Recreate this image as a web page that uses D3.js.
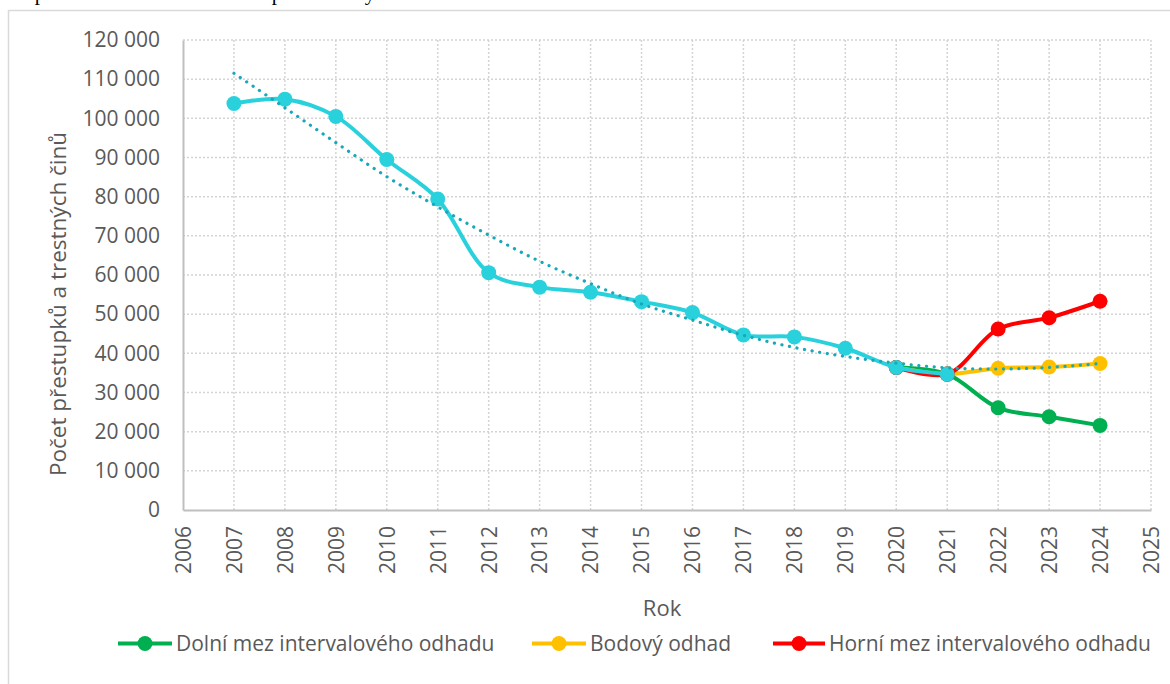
<!DOCTYPE html>
<html>
<head>
<meta charset="utf-8">
<script src="https://cdn.jsdelivr.net/npm/d3@7"></script>
<style>
  body { margin: 0; background: #fff; }
  svg { display: block; font-family: 'Open Sans', sans-serif; }
</style>
</head>
<body>
<svg class="chart"></svg>
<script>
const graphWidth = 1170;
const graphHeight = 684;

// data
const years = [2007, 2008, 2009, 2010, 2011, 2012, 2013, 2014, 2015, 2016, 2017, 2018, 2019, 2020, 2021, 2022, 2023, 2024];
const historyYears = [2007, 2008, 2009, 2010, 2011, 2012, 2013, 2014, 2015, 2016, 2017, 2018, 2019, 2020, 2021];
const historyValues = [103800, 104900, 100500, 89500, 79400, 60600, 56900, 55600, 53200, 50400, 44700, 44200, 41300, 36400, 34700];
// forecast series start from the last two observed years
const forecastYears = [2020, 2021, 2022, 2023, 2024];
const lowerValues = [36400, 34700, 26100, 23800, 21600];
const pointValues = [36400, 34700, 36200, 36500, 37400];
const upperValues = [36400, 34700, 46200, 49100, 53300];
const trendValues = [111500, 102700, 93800, 85100, 77400, 70200, 63500, 57800, 52600, 48500, 44600, 41500, 39200, 37500, 36300, 36000, 36400, 37400];
const yTicks = [0, 10000, 20000, 30000, 40000, 50000, 60000, 70000, 80000, 90000, 100000, 110000, 120000];
const xTicks = [2006, 2007, 2008, 2009, 2010, 2011, 2012, 2013, 2014, 2015, 2016, 2017, 2018, 2019, 2020, 2021, 2022, 2023, 2024, 2025];

const legendItems = [
  { name: 'Dolní mez intervalového odhadu', color: '#00B050', x: 118, w: 54 },
  { name: 'Bodový odhad', color: '#FFC000', x: 532, w: 54 },
  { name: 'Horní mez intervalového odhadu', color: '#FF0000', x: 773, w: 52 }
];

const cyan = '#29D1DC';
const trendColor = '#17A9BA';
const textColor = '#595959';

const svg = d3.select('.chart')
  .attr('width', graphWidth)
  .attr('height', graphHeight);

svg.append('rect').attr('width', graphWidth).attr('height', graphHeight).attr('fill', '#fff');

// clipped text of the page above the chart
[['p', 40], ['p', 277], ['y', 370]].forEach(d => {
  svg.append('text')
    .attr('x', d[1]).attr('y', 0)
    .style('font-family', "'Liberation Serif', serif")
    .style('font-size', '21px')
    .attr('text-anchor', 'middle')
    .attr('fill', '#000')
    .text(d[0]);
});

// chart frame
svg.append('rect')
  .attr('x', 8.5).attr('y', 10.5)
  .attr('width', 1180).attr('height', 700)
  .attr('fill', 'none')
  .attr('stroke', '#d9d9d9')
  .attr('stroke-width', 1.5);

const x = d3.scaleLinear().domain([2006, 2025]).range([183, 1151]);
const y = d3.scaleLinear().domain([0, 120000]).range([510, 40]);

// grid
const grid = svg.append('g').attr('class', 'grid');
grid.selectAll('line.h')
  .data(yTicks.filter(d => d > 0))
  .enter()
  .append('line')
  .attr('x1', x(2006)).attr('x2', x(2025))
  .attr('y1', d => y(d)).attr('y2', d => y(d))
  .attr('stroke', '#d4d4d4').attr('stroke-width', 1.5)
  .attr('stroke-dasharray', '2 2');
grid.selectAll('line.v')
  .data(xTicks.filter(d => d > 2006))
  .enter()
  .append('line')
  .attr('x1', d => x(d)).attr('x2', d => x(d))
  .attr('y1', y(0)).attr('y2', y(120000))
  .attr('stroke', '#d4d4d4').attr('stroke-width', 1.5)
  .attr('stroke-dasharray', '2 2');

// axes
const yAxis = svg.append('g')
  .attr('transform', 'translate(' + x(2006) + ',0)')
  .call(d3.axisLeft(y).tickValues(yTicks).tickSize(0).tickPadding(23)
    .tickFormat(d => d3.format(',')(d).replace(/,/g, ' ')));
yAxis.select('.domain').attr('stroke', '#bfbfbf').attr('stroke-width', 2);
yAxis.selectAll('text')
  .style('font-size', '21px')
  .style('font-family', "'Open Sans', sans-serif")
  .attr('fill', textColor);

const xAxis = svg.append('g')
  .attr('transform', 'translate(0,' + y(0) + ')')
  .call(d3.axisBottom(x).tickValues(xTicks).tickSize(0).tickFormat(d3.format('d')));
xAxis.select('.domain').attr('stroke', '#bfbfbf').attr('stroke-width', 2);
xAxis.selectAll('text')
  .style('font-size', '21px')
  .style('font-family', "'Open Sans', sans-serif")
  .attr('fill', textColor)
  .attr('text-anchor', 'end')
  .attr('transform', 'rotate(-90)')
  .attr('x', -16)
  .attr('y', 0)
  .attr('dy', '0.35em');

// axis titles
svg.append('text')
  .attr('transform', 'translate(58,304) rotate(-90)')
  .attr('text-anchor', 'middle')
  .attr('dy', '0.35em')
  .style('font-size', '22.5px')
  .attr('fill', textColor)
  .text('Počet přestupků a trestných činů');

svg.append('text')
  .attr('x', 662).attr('y', 616)
  .attr('text-anchor', 'middle')
  .style('font-size', '22px')
  .attr('fill', textColor)
  .text('Rok');

// series
const line = d3.line()
  .x(d => x(d.year))
  .y(d => y(d.value))
  .curve(d3.curveCatmullRom.alpha(0.5));

function toPoints(ys, vs) {
  return ys.map((yr, i) => ({ year: yr, value: vs[i] }));
}

const series = [
  { color: '#00B050', points: toPoints(forecastYears, lowerValues) },
  { color: '#FFC000', points: toPoints(forecastYears, pointValues) },
  { color: '#FF0000', points: toPoints(forecastYears, upperValues) },
  { color: cyan, points: toPoints(historyYears, historyValues) }
];

series.forEach(s => {
  const g = svg.append('g');
  g.append('path')
    .attr('d', line(s.points))
    .attr('fill', 'none')
    .attr('stroke', s.color)
    .attr('stroke-width', 4)
    .attr('stroke-linejoin', 'round');
  g.selectAll('circle')
    .data(s.points)
    .enter()
    .append('circle')
    .attr('cx', d => x(d.year))
    .attr('cy', d => y(d.value))
    .attr('r', 7.5)
    .attr('fill', s.color);
});

// trend line
svg.append('path')
  .attr('d', line(toPoints(years, trendValues)))
  .attr('fill', 'none')
  .attr('stroke', trendColor)
  .attr('stroke-width', 3.2)
  .attr('stroke-linecap', 'round')
  .attr('stroke-dasharray', '0.1 7.6');

// legend
const legend = svg.append('g').attr('class', 'legend');
legendItems.forEach(d => {
  const ly = 643.5;
  legend.append('line')
    .attr('x1', d.x).attr('x2', d.x + d.w)
    .attr('y1', ly).attr('y2', ly)
    .attr('stroke', d.color).attr('stroke-width', 4);
  legend.append('circle')
    .attr('cx', d.x + d.w / 2).attr('cy', ly)
    .attr('r', 7.5).attr('fill', d.color);
  legend.append('text')
    .attr('x', d.x + d.w + 4).attr('y', ly)
    .attr('dy', '0.35em')
    .style('font-size', '21px')
    .attr('fill', textColor)
    .text(d.name);
});
</script>
</body>
</html>
